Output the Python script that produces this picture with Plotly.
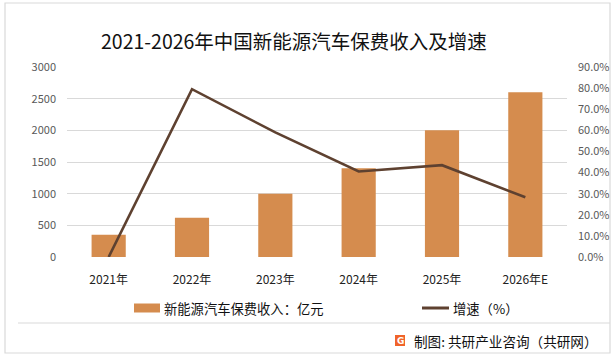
import plotly.graph_objects as go

# ---- data ----
years = ["2021年", "2022年", "2023年", "2024年", "2025年", "2026年E"]
premium = [350, 620, 1000, 1400, 2000, 2600]          # 亿元
growth = [0.0, 79.5, 59.0, 40.5, 43.5, 28.3]          # %
left_ticks = [0, 500, 1000, 1500, 2000, 2500, 3000]
right_ticks = [0, 10, 20, 30, 40, 50, 60, 70, 80, 90]

W, H = 616, 360
BAR = "#D58C4E"
LINE = "#5E4130"
FONT = "Noto Sans CJK SC, Microsoft YaHei, sans-serif"

def px(x):
    return x / W

def py(y):
    return (H - y) / H

fig = go.Figure()
fig.add_trace(go.Bar(x=years, y=premium, marker_color=BAR, name="新能源汽车保费收入：亿元",
                     showlegend=False))
fig.add_trace(go.Scatter(x=years, y=growth, yaxis="y2", mode="lines",
                         line=dict(color=LINE, width=2.6), name="增速（%）", showlegend=False))

fig.update_layout(
    template="none",
    width=W, height=H,
    margin=dict(l=0, r=0, t=0, b=0, pad=0),
    paper_bgcolor="white", plot_bgcolor="white",
    font=dict(family=FONT, color="#595959"),
    bargap=0.59,
    xaxis=dict(domain=[px(67), px(567)], showgrid=False, showline=False, zeroline=False,
               automargin=False, ticks="",
               tickfont=dict(size=12, color="#222222"), ticklabelstandoff=14),
    yaxis=dict(domain=[py(257), py(67)], range=[0, 3000], tickvals=left_ticks,
               showgrid=True, gridcolor="#D9D9D9", gridwidth=1, zeroline=False, ticks="",
               showline=False, automargin=False,
               tickfont=dict(size=11, color="#595959"), ticklabelstandoff=10),
    yaxis2=dict(overlaying="y", side="right", range=[0, 90], tickvals=right_ticks,
                ticktext=[f"{v:.1f}%" for v in right_ticks], showgrid=False, zeroline=False,
                showline=False, automargin=False, ticks="",
                tickfont=dict(size=11, color="#595959"), ticklabelstandoff=10),
)

shapes = [
    # outer frame
    dict(type="rect", xref="paper", yref="paper", x0=px(5), x1=px(610), y0=py(353), y1=py(3),
         line=dict(color="#D9D9D9", width=1.2), fillcolor="rgba(0,0,0,0)", layer="below"),
    # separator above source
    dict(type="line", xref="paper", yref="paper", x0=px(18), x1=px(610), y0=py(323), y1=py(323),
         line=dict(color="#D9D9D9", width=1.2)),
    # legend swatches
    dict(type="rect", xref="paper", yref="paper", x0=px(134), x1=px(160), y0=py(312.5), y1=py(303.5),
         line=dict(width=0), fillcolor=BAR),
    dict(type="line", xref="paper", yref="paper", x0=px(422), x1=px(449), y0=py(308), y1=py(308),
         line=dict(color=LINE, width=3)),
    # logo
    dict(type="rect", xref="paper", yref="paper", x0=px(395), x1=px(405), y0=py(346), y1=py(335),
         line=dict(width=0), fillcolor="#F0642A"),
]
fig.update_layout(shapes=shapes)

ann = [
    dict(text="2021-2026年中国新能源汽车保费收入及增速", x=px(294), y=py(40), xref="paper", yref="paper",
         showarrow=False, font=dict(size=19.5, color="#111111"), xanchor="center", yanchor="middle"),
    dict(text="新能源汽车保费收入：亿元", x=px(162), y=py(308), xref="paper", yref="paper",
         showarrow=False, font=dict(size=13.3, color="#111111"), xanchor="left", yanchor="middle"),
    dict(text="增速（%）", x=px(451), y=py(308), xref="paper", yref="paper",
         showarrow=False, font=dict(size=13.3, color="#111111"), xanchor="left", yanchor="middle"),
    dict(text="<b>G</b>", x=px(400), y=py(340.5), xref="paper", yref="paper",
         showarrow=False, font=dict(size=9, color="white", family="DejaVu Sans"), xanchor="center", yanchor="middle"),
    dict(text="制图: 共研产业咨询（共研网）", x=px(412), y=py(340.5), xref="paper", yref="paper",
         showarrow=False, font=dict(size=13.6, color="#111111"), xanchor="left", yanchor="middle"),
]
fig.update_layout(annotations=ann)

fig.write_html("out.html", config={"displayModeBar": False},
               post_script="document.body.style.margin='0';")
